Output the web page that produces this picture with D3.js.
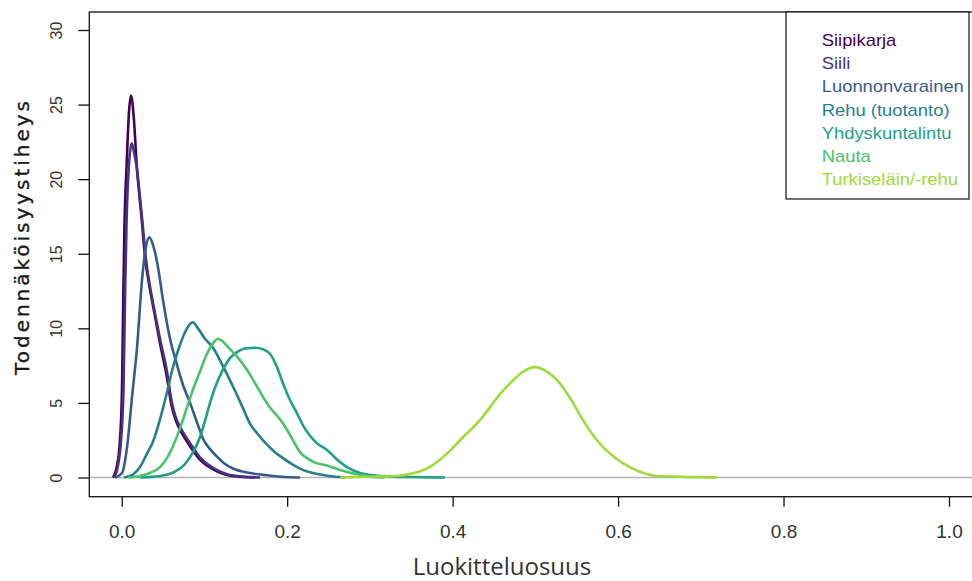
<!DOCTYPE html>
<html><head><meta charset="utf-8">
<script src="https://cdn.jsdelivr.net/npm/d3@7/dist/d3.min.js"></script>
<style>body{margin:0;background:#fff}svg{display:block}</style>
</head><body><svg id="c" width="972" height="581"></svg>
<script>
const categories = ["Siipikarja","Siili","Luonnonvarainen","Rehu (tuotanto)","Yhdyskuntalintu","Nauta","Turkiseläin/-rehu"];
const xTicks = [0,0.2,0.4,0.6,0.8,1.0];
const xTickLabels = ["0.0","0.2","0.4","0.6","0.8","1.0"];
const yTicks = [0,5,10,15,20,25,30];
const xTitle = "Luokitteluosuus";
const yTitle = "Todennäköisyystiheys";

const siipikarja = [[-0.0105,0],[-0.0057,0.8],[-0.0021,2.5],[0.0004,6],[0.0019,12],[0.0034,17],[0.006,21],[0.0088,24.5],[0.0112,25.6],[0.0145,24.2],[0.0181,21],[0.0242,17.3],[0.0282,14.8],[0.0342,12.6],[0.0403,10.8],[0.0463,9.0],[0.0544,6.8],[0.0604,4.8],[0.0656,3.8],[0.0705,3.2],[0.0826,2.1],[0.0946,1.2],[0.1104,0.55],[0.1273,0.17],[0.143,0.05],[0.161,0]];
const siili = [[-0.0093,0],[-0.0045,0.8],[-0.0008,2.5],[0.0022,6],[0.004,12],[0.0058,17],[0.0088,21],[0.0121,22.4],[0.0149,21.8],[0.0181,20.8],[0.0221,18.8],[0.0261,16.5],[0.0294,14.6],[0.0342,12.8],[0.0403,11.0],[0.0463,9.3],[0.0544,7.2],[0.0604,5.1],[0.0656,4.0],[0.0705,3.4],[0.0826,2.3],[0.0946,1.35],[0.1104,0.65],[0.1273,0.22],[0.149,0.05],[0.1672,0]];
const luonnonvarainen = [[-0.0081,0],[0.0004,0.3],[0.0064,2.0],[0.0125,5.4],[0.0185,8.7],[0.0245,13.2],[0.0294,15.5],[0.0334,16.1],[0.0378,15.6],[0.0439,14.1],[0.0499,11.9],[0.0584,9.3],[0.0656,7.8],[0.0741,6.2],[0.0826,5.0],[0.0910,3.7],[0.0983,2.6],[0.1068,1.9],[0.1152,1.4],[0.1249,0.9],[0.1345,0.6],[0.1551,0.3],[0.1756,0.15],[0.1974,0.03],[0.2155,0]];
const rehu = [[0.0028,0],[0.0137,0.2],[0.0221,0.7],[0.0306,1.6],[0.0378,2.4],[0.0463,3.9],[0.0547,5.7],[0.0620,7.4],[0.0705,8.9],[0.0789,10.0],[0.0858,10.4],[0.0922,10.0],[0.1007,9.3],[0.1104,8.7],[0.1212,7.6],[0.1345,6.1],[0.1454,4.8],[0.1551,3.6],[0.1647,2.9],[0.1756,2.2],[0.1853,1.7],[0.1950,1.3],[0.2058,0.9],[0.2155,0.6],[0.2276,0.35],[0.2397,0.2],[0.2578,0.05],[0.2699,0]];
const yhdyskuntalintu = [[0.0221,0],[0.0463,0.1],[0.0644,0.4],[0.0765,0.9],[0.0862,1.7],[0.0946,2.7],[0.1007,3.8],[0.1068,5.0],[0.1140,6.2],[0.1212,7.1],[0.1309,8.0],[0.1394,8.4],[0.1490,8.65],[0.1611,8.7],[0.1708,8.6],[0.1792,8.3],[0.1877,7.4],[0.1950,6.3],[0.2034,5.2],[0.2119,4.3],[0.2191,3.5],[0.2276,2.8],[0.2360,2.3],[0.2481,1.85],[0.2602,1.2],[0.2723,0.7],[0.2880,0.3],[0.3038,0.15],[0.3243,0.06],[0.3485,0.03],[0.3727,0.01],[0.3908,0]];
const nauta = [[0.0076,0],[0.0221,0.1],[0.0342,0.3],[0.0463,0.7],[0.0547,1.3],[0.0620,2.1],[0.0705,3.3],[0.0789,4.7],[0.0862,5.9],[0.0946,7.1],[0.1031,8.3],[0.1104,9.0],[0.1164,9.3],[0.1224,9.1],[0.1309,8.6],[0.1394,8.1],[0.1466,7.6],[0.1551,6.9],[0.1635,6.1],[0.1708,5.4],[0.1792,4.7],[0.1913,3.9],[0.1998,3.2],[0.2070,2.5],[0.2155,1.7],[0.2240,1.3],[0.2336,1.0],[0.2481,0.8],[0.2639,0.5],[0.2820,0.25],[0.3001,0.05],[0.3183,0]];
const turkiselain = [[0.2639,0],[0.2917,0.05],[0.3328,0.1],[0.3521,0.28],[0.3727,0.72],[0.3932,1.6],[0.4126,2.7],[0.4331,3.85],[0.4452,4.7],[0.4537,5.35],[0.4730,6.5],[0.4851,7.1],[0.4996,7.4],[0.5141,7.1],[0.5298,6.3],[0.5455,5.0],[0.5576,3.85],[0.5745,2.5],[0.5902,1.6],[0.6060,0.95],[0.6265,0.39],[0.6470,0.1],[0.6748,0.05],[0.7196,0.01]];

const seriesValues = [siipikarja, siili, luonnonvarainen, rehu, yhdyskuntalintu, nauta, turkiselain];
const palette = ["#440154","#46337E","#365C8D","#277F8E","#1FA187","#4AC16D","#9FDA3A"];

const svg = d3.select("#c");
const box = {l:89.3, t:12, r:982, b:496.7};
const x = d3.scaleLinear().domain([0,1]).range([121.7,949]);
const y = d3.scaleLinear().domain([0,30]).range([477.5,30]);

// zero line
svg.append("line").attr("x1",box.l).attr("x2",box.r).attr("y1",y(0)).attr("y2",y(0))
  .attr("stroke","#b4b4b4").attr("stroke-width",1.4);

const line = d3.line().x(d=>x(d[0])).y(d=>y(d[1])).curve(d3.curveMonotoneX);
seriesValues.forEach((s,i)=>{
  svg.append("path").datum(s).attr("d",line).attr("fill","none")
    .attr("stroke",palette[i]).attr("stroke-width",2.6).attr("stroke-linejoin","round");
});

// box
svg.append("rect").attr("x",box.l).attr("y",box.t).attr("width",box.r-box.l).attr("height",box.b-box.t)
  .attr("fill","none").attr("stroke","#111").attr("stroke-width",1.3);

// x axis
const xa = svg.append("g").attr("transform",`translate(0,${box.b})`)
  .call(d3.axisBottom(x).tickValues(xTicks).tickSize(10).tickFormat((d,i)=>xTickLabels[i]));
xa.select(".domain").remove();
xa.selectAll("line").attr("stroke","#111").attr("stroke-width",1.3);
xa.selectAll("text").attr("font-family","'Liberation Sans Narrow','Arial Narrow',sans-serif")
  .attr("font-size",19).attr("fill","#333").attr("y",null).attr("dy",null)
  .attr("transform","translate(0,41)");

// y axis
const ya = svg.append("g").attr("transform",`translate(${box.l},0)`)
  .call(d3.axisLeft(y).tickValues(yTicks).tickSize(11));
ya.select(".domain").remove();
ya.selectAll("line").attr("stroke","#111").attr("stroke-width",1.3);
ya.selectAll("text").attr("font-family","'Liberation Sans',Arial,sans-serif")
  .attr("font-size",16).attr("fill","#333").attr("x",null).attr("dy",null)
  .attr("text-anchor","middle").attr("transform","translate(-27,0) rotate(-90)");

// titles
svg.append("text").attr("x",502).attr("y",575).attr("text-anchor","middle")
  .attr("font-family","'Open Sans',sans-serif").attr("font-size",24).attr("fill","#333").text(xTitle);
svg.append("text").attr("transform","translate(29,238) rotate(-90)").attr("text-anchor","middle")
  .attr("font-family","'DejaVu Sans',sans-serif").attr("font-size",20).attr("fill","#1a1a1a")
  .attr("stroke","#1a1a1a").attr("stroke-width",0.35)
  .attr("textLength",274).attr("lengthAdjust","spacing").text(yTitle);

// legend
svg.append("rect").attr("x",786).attr("y",12).attr("width",183).attr("height",187)
  .attr("fill","#fff").attr("stroke","#111").attr("stroke-width",1.2);
const lg = svg.append("g");
categories.forEach((c,i)=>{
  lg.append("text").attr("transform",`translate(821.7,${46+i*23.2}) scale(1.15,1)`)
    .attr("font-family","'Liberation Sans',Arial,sans-serif").attr("font-size",16)
    .attr("fill",palette[i]).text(c);
});
</script></body></html>
